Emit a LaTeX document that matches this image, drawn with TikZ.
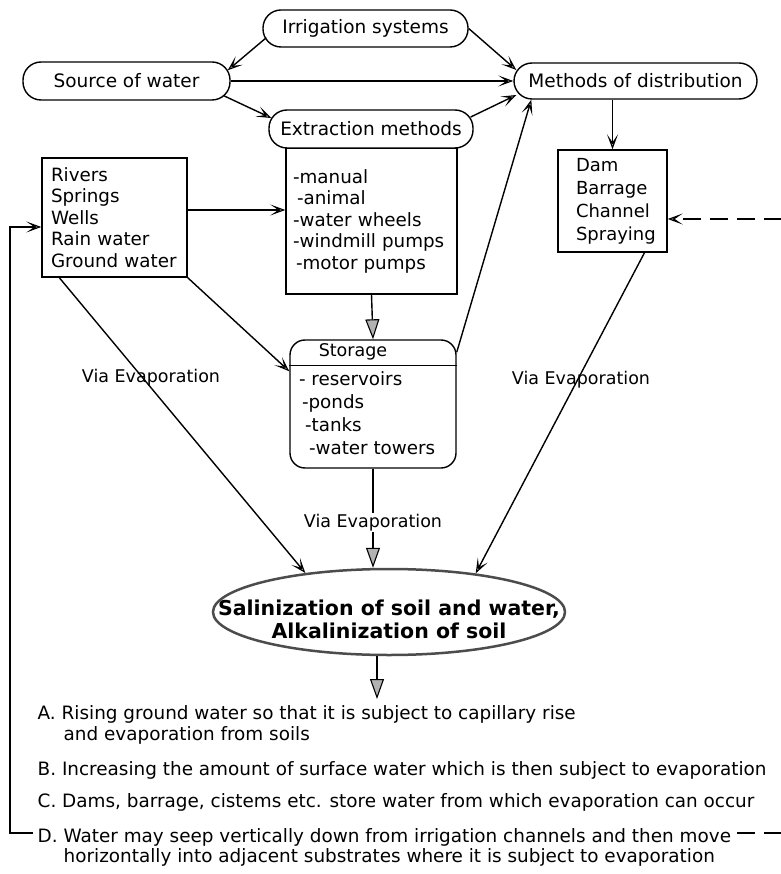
\documentclass[tikz,border=0pt]{standalone}
\usepackage{fontspec}
\setmainfont{DejaVu Sans}
\usetikzlibrary{arrows.meta,shapes.geometric}

\begin{document}
\begin{tikzpicture}[x=1pt,y=-1pt,line width=1.4pt,
		pill/.style={draw,fill=white,rounded corners=18pt,inner sep=0pt,font=\fontsize{18.5}{22}\selectfont},
		listbox/.style={draw,align=left,inner ysep=0pt,font=\fontsize{18.3}{21.5}\selectfont},
		via/.style={inner sep=1pt,font=\fontsize{17.5}{20}\selectfont},
		item/.style={anchor=north west,align=left,inner sep=0pt,font=\fontsize{18.4}{20.5}\selectfont},
		arr/.style={-{Stealth[length=15pt,width=11pt,inset=8pt,fill=gray!50,line width=1.1pt]}},
		bigarr/.style={-{Triangle[length=20pt,width=14pt,fill=gray!60,line width=1.1pt]}}]
		\useasboundingbox (0,0) rectangle (780,874);
		% boxes
		\node[listbox,text width=157pt,inner xsep=7pt,minimum height=146pt] (extlist) at (371.5,221)
			{-manual\\\hspace*{4pt}-animal\\-water wheels\\-windmill pumps\\\hspace*{3pt}-motor pumps};
		\node[pill,minimum width=205pt,minimum height=37pt] (irr) at (365.5,28.5) {Irrigation systems};
		\node[pill,minimum width=207pt,minimum height=38pt] (src) at (126.5,81) {Source of water};
		\node[pill,minimum width=243pt,minimum height=36pt] (dist) at (635.5,81) {Methods of distribution};
		\node[pill,minimum width=204pt,minimum height=38pt] (ext) at (371,129) {Extraction methods};
		\node[listbox,text width=127pt,inner xsep=9pt,minimum height=119pt] (rivers) at (114.5,217.5)
			{Rivers\\Springs\\Wells\\Rain water\\Ground water};
		\node[listbox,text width=73pt,inner xsep=18pt,minimum height=102pt,font=\fontsize{18}{23}\selectfont] (dam) at (612.5,201)
			{Dam\\Barrage\\Channel\\Spraying};
		% storage
		\node[draw,rounded corners=15pt,minimum width=166pt,minimum height=128pt] (stor) at (373,404) {};
		\draw ([yshift=-26pt]stor.north west) -- ([yshift=-26pt]stor.north east);
		\node[via] (stortitle) at ([xshift=-20pt,yshift=-13pt]stor.north) {Storage};
		\node[anchor=north west,align=left,inner sep=0pt,font=\fontsize{18.3}{22.7}\selectfont] (storlist)
			at ([xshift=9pt,yshift=-32pt]stor.north west)
			{- reservoirs\\\hspace*{3pt}-ponds\\\hspace*{6pt}-tanks\\\hspace*{10pt}-water towers};
		% result
		\node[ellipse,draw=black!70,line width=2.5pt,minimum width=352pt,minimum height=86pt] (sal) at (389,612) {};
		\node[align=center,inner sep=0pt,font=\bfseries\fontsize{20.5}{23}\selectfont] (saltext) at ([yshift=-7pt]sal.center)
			{Salinization of soil and water,\\Alkalinization of soil};
		% list of causes
		\node[item] (itemA) at (37,705) {A. Rising ground water so that it is subject to capillary rise\\\hspace*{26pt}and evaporation from soils};
		\node[item] (itemB) at (37,760.5) {B. Increasing the amount of surface water which is then subject to evaporation};
		\node[item] (itemC) at (37,792.5) {C. Dams, barrage, cistems etc. store water from which evaporation can occur};
		\node[item] (itemD) at (37,827.5) {D. Water may seep vertically down from irrigation channels and then move\\\hspace*{26pt}horizontally into adjacent substrates where it is subject to evaporation};
		\coordinate (dL) at (33,833);
		\coordinate (fbk) at (10,833);
		\coordinate (dR) at (737,833);
		\coordinate (rgt) at (790,833);
		\coordinate (belowsal) at (377,699);
		% connectors
		\draw[arr] ([xshift=4pt,yshift=10pt]irr.south west) -- ([xshift=-3pt,yshift=-9pt]src.north east);
		\draw[arr] (irr.east) -- ([xshift=3pt,yshift=11pt]dist.west);
		\draw[arr] (src.east) -- (dist.west);
		\draw[arr] ([xshift=-7pt,yshift=5pt]src.south east) -- ([xshift=3pt,yshift=11pt]ext.west);
		\draw[arr] ([xshift=-3pt,yshift=12pt]ext.east) -- ([xshift=3pt,yshift=-14pt]dist.west);
		\draw[arr] ([yshift=-13pt]stor.north east) -- ([xshift=18pt]dist.south west);
		\draw[arr] (dam.north |- dist.south) -- (dam.north);
		\draw[arr] ([yshift=7.5pt]rivers.east) -- ([yshift=7.5pt]rivers.east -| extlist.west);
		\draw[bigarr] (extlist.south) -- (stor.north);
		\draw[arr] (rivers.south east) -- ([yshift=-32pt]stor.north west);
		\draw[arr] ([xshift=18pt]rivers.south west) -- (sal.155);
		\draw[arr] ([xshift=32pt]dam.south) -- (sal.24);
		\draw[bigarr] (stor.south) -- (stor.south |- sal.north)
			node[via,fill=white,pos=0.54] (viaM) {Via Evaporation};
		\node[via] (viaL) at (151,378) {Via Evaporation};
		\node[via] (viaR) at (581,380) {Via Evaporation};
		\draw[bigarr] ([xshift=-12pt]sal.south) -- (belowsal);
		\draw[arr] (dL) -- (fbk) |- ([yshift=-9.5pt]rivers.west);
		\draw[arr,dash pattern=on 18pt off 9pt] (dR) -- (rgt) |- ([yshift=-18pt]dam.east);
\end{tikzpicture}
\end{document}
